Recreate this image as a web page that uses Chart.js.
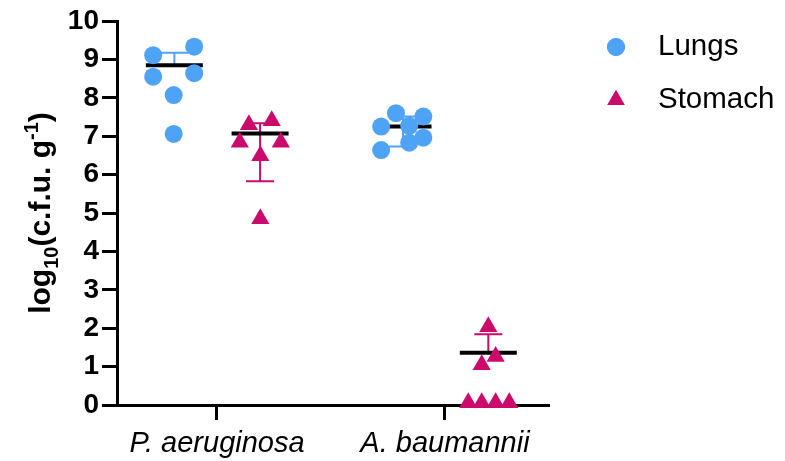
<!DOCTYPE html>
<html>
<head>
<meta charset="utf-8">
<script src="https://cdn.jsdelivr.net/npm/chart.js@4.4.1/dist/chart.umd.min.js"></script>
<style>
  html, body { margin: 0; padding: 0; background: #fff; }
  #wrap { width: 785px; height: 461px; position: relative; }
</style>
</head>
<body>
<div id="wrap"><canvas id="chart"></canvas></div>
<script>
// ========================
// DATA
// ========================
const categories = ["P. aeruginosa", "A. baumannii"];
const seriesNames = ["Lungs", "Stomach"];

// one point per animal; x = position on the axis (1 = first group, 2 = second)
const lungsPaX = [0.72, 0.90, 0.72, 0.90, 0.81, 0.81];
const lungsPaY = [9.11, 9.33, 8.55, 8.64, 8.07, 7.06];
const stomachPaX = [1.14, 1.24, 1.10, 1.28, 1.19, 1.19];
const stomachPaY = [7.30, 7.40, 6.84, 6.84, 6.49, 4.85];
const lungsAbX = [1.72, 1.785, 1.905, 1.843, 1.843, 1.905, 1.72];
const lungsAbY = [7.25, 7.60, 7.51, 7.27, 6.83, 6.96, 6.64];
const stomachAbX = [2.19, 2.222, 2.161, 2.102, 2.161, 2.222, 2.282];
const stomachAbY = [2.04, 1.26, 1.05, 0.06, 0.06, 0.06, 0.06];

// centre line + error bar per group (Lungs Pa, Stomach Pa, Lungs Ab, Stomach Ab)
const barX = [0.813, 1.189, 1.816, 2.19];
const barCenter = [8.85, 7.07, 7.25, 1.36];
const barLow = [8.85, 5.83, 6.73, 1.36];
const barHigh = [9.17, 7.34, 7.51, 1.84];

const yTicks = [0, 1, 2, 3, 4, 5, 6, 7, 8, 9, 10];

// ========================
// STYLE
// ========================
const BLUE = "#4ea3f7";
const PINK = "#cc0a6c";
const barColors = [BLUE, PINK, BLUE, PINK];
const FONT = "'Liberation Sans', Arial, sans-serif";

const toPoints = (xs, ys) => xs.map((x, i) => ({ x, y: ys[i] }));

// ========================
// PLUGINS
// ========================
const meanBars = {
  id: "meanBars",
  beforeDatasetsDraw(chart) {
    const { ctx, scales: { x, y } } = chart;
    ctx.save();
    barX.forEach((bx, i) => {
      const px = x.getPixelForValue(bx);
      const pc = y.getPixelForValue(barCenter[i]);
      const pl = y.getPixelForValue(barLow[i]);
      const ph = y.getPixelForValue(barHigh[i]);
      ctx.strokeStyle = barColors[i];
      ctx.lineWidth = 2;
      ctx.beginPath();
      ctx.moveTo(px, ph);
      ctx.lineTo(px, pl);
      if (ph < pc - 0.5) { ctx.moveTo(px - 14, ph); ctx.lineTo(px + 14, ph); }
      if (pl > pc + 0.5) { ctx.moveTo(px - 14, pl); ctx.lineTo(px + 14, pl); }
      ctx.stroke();
      ctx.strokeStyle = "#000";
      ctx.lineWidth = 4;
      ctx.beginPath();
      ctx.moveTo(px - 28.5, pc);
      ctx.lineTo(px + 28.5, pc);
      ctx.stroke();
    });
    ctx.restore();
  },
};

const yTitle = {
  id: "yTitle",
  afterDraw(chart) {
    const ctx = chart.ctx;
    const parts = [
      { t: "log", size: 30, dy: 0 },
      { t: "10", size: 20, dy: 8 },
      { t: "(c.f.u. g", size: 30, dy: 0 },
      { t: "-1", size: 20, dy: -12 },
      { t: ")", size: 30, dy: 0 },
    ];
    ctx.save();
    let total = 0;
    parts.forEach((p) => {
      ctx.font = `bold ${p.size}px ${FONT}`;
      p.w = ctx.measureText(p.t).width;
      total += p.w;
    });
    ctx.translate(50, 213);
    ctx.rotate(-Math.PI / 2);
    ctx.fillStyle = "#000";
    ctx.textBaseline = "alphabetic";
    let cx = -total / 2;
    parts.forEach((p) => {
      ctx.font = `bold ${p.size}px ${FONT}`;
      ctx.fillText(p.t, cx, p.dy);
      cx += p.w;
    });
    ctx.restore();
  },
};

const sideLegend = {
  id: "sideLegend",
  afterDraw(chart) {
    const ctx = chart.ctx;
    const styles = ["circle", "triangle"];
    const sizes = [9, 10];
    const colors = [BLUE, PINK];
    const rows = [47, 100];
    ctx.save();
    seriesNames.forEach((name, i) => {
      ctx.fillStyle = colors[i];
      Chart.helpers.drawPoint(ctx, { pointStyle: styles[i], radius: sizes[i], borderWidth: 0 }, 616, rows[i]);
      ctx.fill();
      ctx.fillStyle = "#000";
      ctx.font = `29.5px ${FONT}`;
      ctx.textBaseline = "middle";
      ctx.fillText(name, 658, rows[i]);
    });
    ctx.restore();
  },
};

// ========================
// CHART
// ========================
new Chart(document.getElementById("chart"), {
  type: "scatter",
  data: {
    datasets: [
      {
        label: seriesNames[0],
        data: [...toPoints(lungsPaX, lungsPaY), ...toPoints(lungsAbX, lungsAbY)],
        pointStyle: "circle",
        pointRadius: 9,
        pointHoverRadius: 9,
        backgroundColor: BLUE,
        borderWidth: 0,
        clip: false,
      },
      {
        label: seriesNames[1],
        data: [...toPoints(stomachPaX, stomachPaY), ...toPoints(stomachAbX, stomachAbY)],
        pointStyle: "triangle",
        pointRadius: 10.5,
        pointHoverRadius: 10.5,
        backgroundColor: PINK,
        borderWidth: 0,
        clip: false,
      },
    ],
  },
  options: {
    responsive: true,
    maintainAspectRatio: false,
    animation: false,
    events: [],
    layout: { padding: { top: 21, right: 237, left: 0, bottom: 0 } },
    plugins: { legend: { display: false }, tooltip: { enabled: false } },
    scales: {
      x: {
        type: "linear",
        min: 0.5614,
        max: 2.4518,
        afterBuildTicks: (s) => { s.ticks = categories.map((c, i) => ({ value: i + 1 })); },
        afterFit: (s) => { s.height = 56; },
        ticks: {
          callback: (v) => categories[v - 1] ?? "",
          font: { family: FONT, size: 29, style: "italic" },
          color: "#000",
          padding: 7,
          maxRotation: 0,
          autoSkip: false,
        },
        grid: { drawOnChartArea: false, drawTicks: true, tickLength: 15, lineWidth: 3, color: "#000" },
        border: { display: true, width: 3, color: "#000" },
      },
      y: {
        min: 0,
        max: 10,
        afterBuildTicks: (s) => { s.ticks = yTicks.map((v) => ({ value: v })); },
        afterFit: (s) => { s.width = 117; },
        ticks: {
          font: { family: FONT, size: 28, weight: "bold" },
          color: "#000",
          padding: 3,
        },
        grid: { drawOnChartArea: false, drawTicks: true, tickLength: 15, lineWidth: 3, color: "#000" },
        border: { display: true, width: 3, color: "#000" },
      },
    },
  },
  plugins: [meanBars, yTitle, sideLegend],
});
</script>
</body>
</html>
